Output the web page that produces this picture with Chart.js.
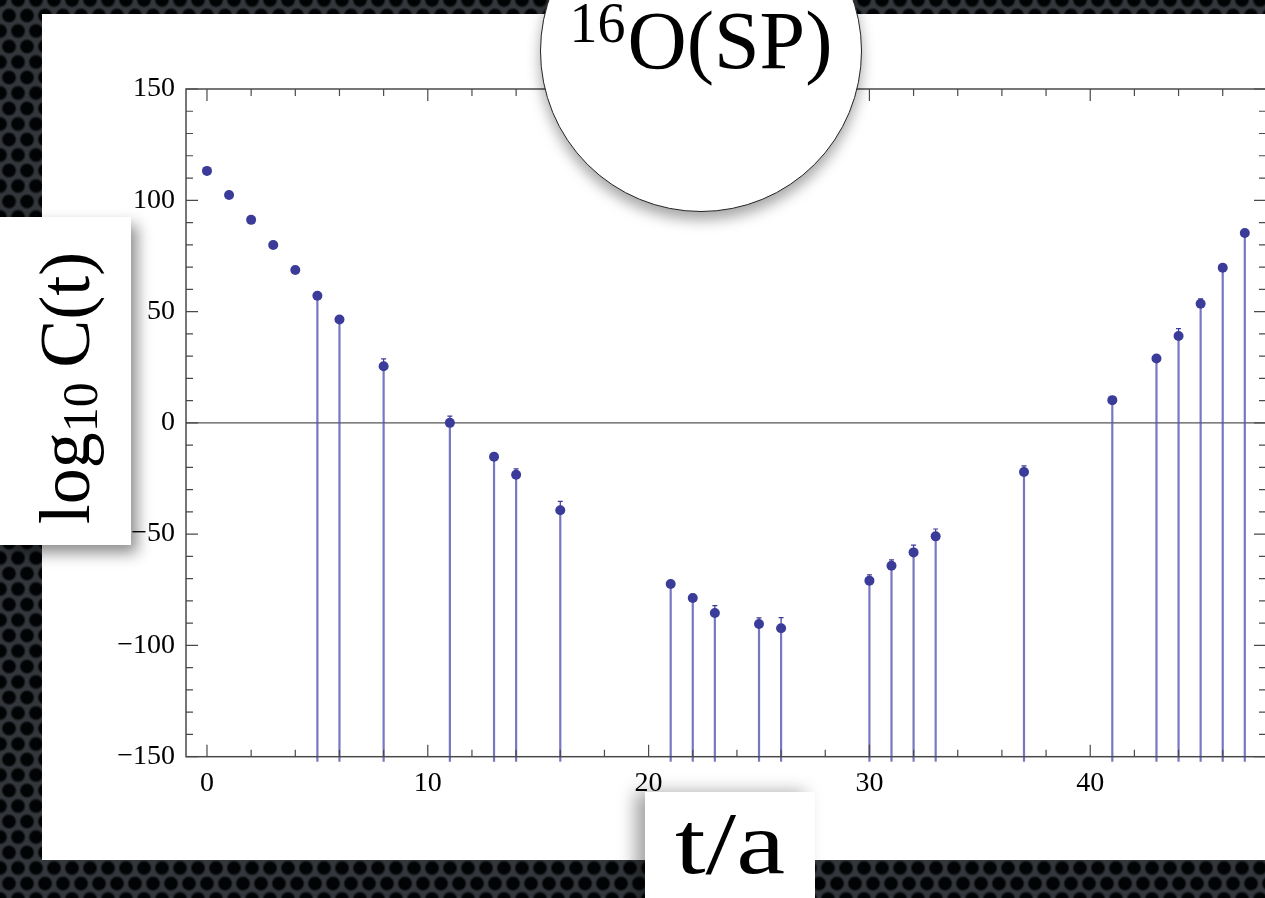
<!DOCTYPE html>
<html>
<head>
    <title>16O(SP) log10 C(t)</title>
    <style>
        html, body {
            margin: 0;
            padding: 0;
            width: 1265px;
            height: 898px;
            overflow: hidden;
        }
        body {
            position: relative;
            background-color: #33373b;
            background-image:
                radial-gradient(circle, #020304 0, #020304 5.5px, rgba(0,0,0,0) 8px),
                radial-gradient(circle, #020304 0, #020304 5.5px, rgba(0,0,0,0) 8px);
            background-size: 18px 31px, 18px 31px;
            background-position: 0 0, 9px 15.5px;
            font-family: 'Liberation Serif', 'Times New Roman', serif;
        }
        #panel {
            position: absolute;
            left: 42px;
            top: 14px;
            width: 1290px;
            height: 846px;
            background: #fff;
        }
        #chart-container {
            position: absolute;
            left: 0;
            top: 0;
            width: 1290px;
            height: 846px;
        }
        #title-circle {
            position: absolute;
            left: 540px;
            top: -110px;
            width: 322px;
            height: 322px;
            border-radius: 50%;
            background: #fff;
            border: 1px solid #222;
            box-sizing: border-box;
            box-shadow: 0 8px 14px rgba(0, 0, 0, 0.35);
            z-index: 3;
        }
        #title-text {
            position: absolute;
            left: 0;
            width: 100%;
            top: 109px;
            text-align: center;
            font-size: 82px;
            line-height: 1;
            color: #000;
        }
        #title-text sup {
            font-size: 56px;
            vertical-align: 0;
            position: relative;
            top: -26px;
            margin-right: 2px;
        }
        #ylabel-box {
            position: absolute;
            left: 0;
            top: 217px;
            width: 131px;
            height: 328px;
            background: #fff;
            box-shadow: 6px 8px 14px rgba(0, 0, 0, 0.45);
            z-index: 3;
        }
        #ylabel-text {
            position: absolute;
            left: 65px;
            top: 171px;
            transform: translate(-50%, -50%) rotate(-90deg);
            white-space: nowrap;
            font-size: 72px;
            line-height: 1;
            color: #000;
        }
        #ylabel-text sub {
            font-size: 50px;
            vertical-align: 0;
            position: relative;
            top: 8px;
        }
        #xlabel-box {
            position: absolute;
            left: 645px;
            top: 792px;
            width: 170px;
            height: 120px;
            background: #fff;
            box-shadow: -10px 0 16px rgba(0, 0, 0, 0.35);
            z-index: 3;
        }
        #xlabel-text {
            position: absolute;
            left: 0;
            width: 100%;
            top: 8px;
            text-align: center;
            font-size: 88px;
            line-height: 1;
            color: #000;
            transform: scaleX(1.25);
        }
    </style>
    <script src="https://cdn.jsdelivr.net/npm/chart.js"></script>
</head>
<body>
    <div id="panel">
        <div id="chart-container">
            <canvas id="corrChart"></canvas>
        </div>
    </div>
    <div id="title-circle"><div id="title-text"><sup>16</sup>O(SP)</div></div>
    <div id="ylabel-box"><div id="ylabel-text">log<sub>10</sub>&thinsp;C(t)</div></div>
    <div id="xlabel-box"><div id="xlabel-text">t/a</div></div>

    <script>
        // time slices that have a (positive) correlator value
        const tValues = [0, 1, 2, 3, 4, 5, 6, 8, 11, 13, 14, 16, 21, 22, 23, 25, 26, 30, 31, 32, 33, 37, 41, 43, 44, 45, 46, 47];
        // log10 C(t)
        const logC = [113.2, 102.4, 91.2, 79.9, 68.7, 57.1, 46.4, 25.4, 0.0, -15.2, -23.3, -39.3,
                      -72.4, -78.7, -85.4, -90.4, -92.3, -70.9, -64.2, -58.2, -51.0, -22.1,
                      10.2, 28.9, 39.0, 53.5, 69.7, 85.3];
        // error bars (half height)
        const logCErr = [0.5, 0.5, 0.5, 0.5, 0.5, 1.0, 1.0, 3.3, 3.0, 1.5, 2.6, 4.0,
                         1.2, 1.6, 3.3, 2.8, 4.8, 2.6, 2.6, 3.3, 3.3, 2.8,
                         1.5, 1.6, 3.3, 2.2, 1.5, 1.0];
        // which points are drawn with a drop line
        const hasStem = tValues.map(t => t >= 5);

        const xTicksMajor = [0, 10, 20, 30, 40];
        const yTicksMajor = [-150, -100, -50, 0, 50, 100, 150];

        const pointColor = '#3b3b99';
        const stemColor = 'rgba(85, 85, 180, 0.8)';
        const frameColor = '#4a4a4a';

        const points = tValues.map((t, i) => ({ x: t, y: logC[i] }));

        // drop lines, error bars and zero line, behind the dots
        const stemPlugin = {
            id: 'stems',
            beforeDatasetsDraw(chart) {
                const { ctx, chartArea, scales } = chart;
                const xs = scales.x, ys = scales.y;
                ctx.save();
                // zero line
                ctx.strokeStyle = '#555';
                ctx.lineWidth = 1.2;
                const y0 = ys.getPixelForValue(0);
                ctx.beginPath();
                ctx.moveTo(chartArea.left, y0);
                ctx.lineTo(chartArea.right, y0);
                ctx.stroke();

                ctx.strokeStyle = stemColor;
                ctx.lineWidth = 2.2;
                tValues.forEach((t, i) => {
                    if (!hasStem[i]) return;
                    const px = xs.getPixelForValue(t);
                    ctx.beginPath();
                    ctx.moveTo(px, ys.getPixelForValue(logC[i]));
                    ctx.lineTo(px, chartArea.bottom + 5);
                    ctx.stroke();
                });

                // error bars, only the upper cap shows above the stem
                ctx.strokeStyle = pointColor;
                ctx.lineWidth = 1.2;
                tValues.forEach((t, i) => {
                    const px = xs.getPixelForValue(t);
                    const top = ys.getPixelForValue(logC[i] + logCErr[i]);
                    const mid = ys.getPixelForValue(logC[i]);
                    ctx.beginPath();
                    ctx.moveTo(px, top);
                    ctx.lineTo(px, mid);
                    ctx.moveTo(px - 2.5, top);
                    ctx.lineTo(px + 2.5, top);
                    ctx.stroke();
                });
                ctx.restore();
            }
        };

        // Mathematica style frame with inward ticks on all four sides
        const framePlugin = {
            id: 'frame',
            afterDatasetsDraw(chart) {
                const { ctx, chartArea, scales } = chart;
                const { left, right, top, bottom } = chartArea;
                const xs = scales.x, ys = scales.y;
                ctx.save();
                ctx.strokeStyle = frameColor;
                ctx.lineWidth = 1.5;
                ctx.strokeRect(left, top, right - left, bottom - top);

                ctx.lineWidth = 1.2;
                ctx.beginPath();
                for (let t = 0; t <= xs.max; t += 2) {
                    const px = xs.getPixelForValue(t);
                    const len = t % 10 === 0 ? 12 : 7;
                    ctx.moveTo(px, bottom);
                    ctx.lineTo(px, bottom - len);
                    ctx.moveTo(px, top);
                    ctx.lineTo(px, top + len);
                }
                for (let v = -150; v <= 150; v += 10) {
                    const py = ys.getPixelForValue(v);
                    const len = v % 50 === 0 ? 12 : 7;
                    ctx.moveTo(left, py);
                    ctx.lineTo(left + len, py);
                    ctx.moveTo(right, py);
                    ctx.lineTo(right - len, py);
                }
                ctx.stroke();
                ctx.restore();
            }
        };

        const tickFont = { family: "'Liberation Serif', 'Times New Roman', serif", size: 28 };

        new Chart(document.getElementById('corrChart'), {
            type: 'scatter',
            data: {
                datasets: [{
                    label: 'log10 C(t)',
                    data: points,
                    backgroundColor: pointColor,
                    borderColor: pointColor,
                    borderWidth: 0,
                    pointRadius: 5,
                    pointHoverRadius: 5
                }]
            },
            options: {
                responsive: true,
                maintainAspectRatio: false,
                animation: false,
                events: [],
                layout: {
                    padding: { top: 75, right: 66, left: 0, bottom: 0 }
                },
                plugins: {
                    legend: { display: false },
                    tooltip: { enabled: false }
                },
                scales: {
                    x: {
                        type: 'linear',
                        min: -0.95,
                        max: 47.96,
                        afterFit: scale => { scale.height = 103.3; },
                        afterBuildTicks: scale => {
                            scale.ticks = xTicksMajor.map(v => ({ value: v }));
                        },
                        grid: { display: false, drawTicks: false },
                        border: { display: false },
                        ticks: {
                            font: tickFont,
                            color: '#000',
                            padding: 10,
                            maxRotation: 0
                        }
                    },
                    y: {
                        type: 'linear',
                        min: -150,
                        max: 150,
                        afterFit: scale => { scale.width = 144; },
                        afterBuildTicks: scale => {
                            scale.ticks = yTicksMajor.map(v => ({ value: v }));
                        },
                        grid: { display: false, drawTicks: false },
                        border: { display: false },
                        ticks: {
                            font: tickFont,
                            color: '#000',
                            padding: 11,
                            callback: v => String(v).replace('-', '\u2212')
                        }
                    }
                }
            },
            plugins: [stemPlugin, framePlugin]
        });
    </script>
</body>
</html>
